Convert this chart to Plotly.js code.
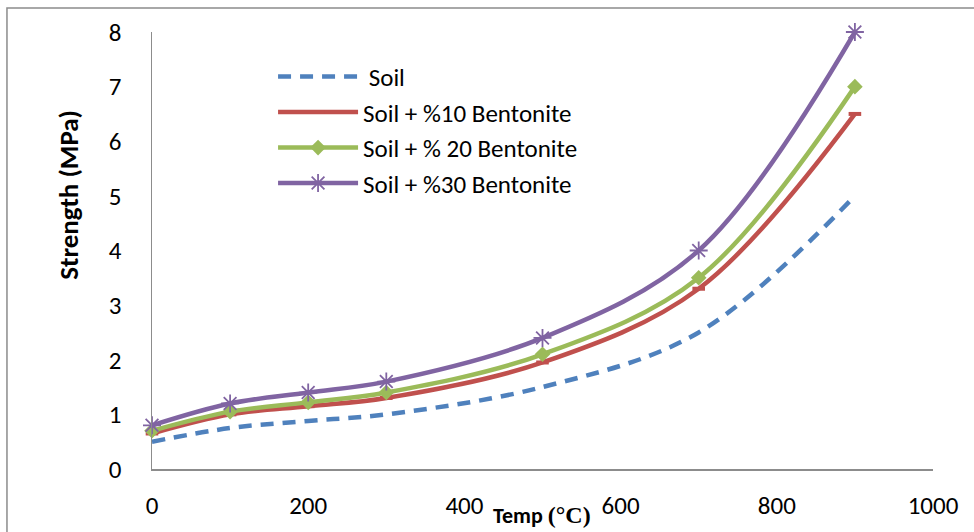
<!DOCTYPE html>
<html>
<head>
<meta charset="utf-8">
<script src="https://cdn.plot.ly/plotly-3.0.1.min.js"></script>
<style>html,body{margin:0;padding:0;background:#fff;}</style>
</head>
<body>
<div id="chart" style="width:974px;height:532px;"></div>
<script>
const temps = [0, 100, 200, 300, 500, 700, 900];
const soil = [0.5, 0.75, 0.88, 1.0, 1.5, 2.5, 5.0];
const bent10 = [0.65, 1.0, 1.15, 1.3, 1.95, 3.3, 6.5];
const bent20 = [0.7, 1.05, 1.22, 1.4, 2.1, 3.5, 7.0];
const bent30 = [0.8, 1.2, 1.4, 1.6, 2.4, 4.0, 8.0];
const seriesNames = [" Soil", "Soil + %10 Bentonite", "Soil + % 20 Bentonite", "Soil + %30 Bentonite"];
const xTicks = [0, 200, 400, 600, 800, 1000];
const yTicks = [0, 1, 2, 3, 4, 5, 6, 7, 8];

const FONT = "Carlito, Lato, 'Liberation Sans', sans-serif";

const traces = [
  {x: temps, y: soil, name: seriesNames[0], legendgroup: 'a', mode: 'lines',
   line: {color: '#4F81BD', width: 4.5, dash: '13px,9px', shape: 'spline', smoothing: 1}},
  {x: temps, y: bent10, name: seriesNames[1], legendgroup: 'b', mode: 'lines+markers',
   line: {color: '#C0504D', width: 4.5, shape: 'spline', smoothing: 1},
   marker: {symbol: 'line-ew-open', size: 9, color: '#C0504D', line: {color: '#C0504D', width: 4}}},
  {x: temps, y: bent20, name: seriesNames[2], legendgroup: 'c', mode: 'lines+markers',
   line: {color: '#9BBB59', width: 4.5, shape: 'spline', smoothing: 1},
   marker: {symbol: 'diamond', size: 12, color: '#9BBB59'}},
  {x: temps, y: bent30, name: seriesNames[3], legendgroup: 'd', mode: 'lines+markers',
   line: {color: '#8064A2', width: 4.5, shape: 'spline', smoothing: 1},
   marker: {symbol: 'asterisk-open', size: 15, color: '#8064A2', line: {color: '#8064A2', width: 1.8}}}
];
traces.forEach(t => t.cliponaxis = false);

const layout = {
  width: 974, height: 532,
  margin: {l: 152, r: 41, t: 32, b: 63, pad: 0},
  paper_bgcolor: '#fff', plot_bgcolor: '#fff',
  font: {family: FONT, color: '#000'},
  showlegend: true,
  legend: {x: 0.155, xanchor: 'left', y: 0.95, yanchor: 'top', bgcolor: 'rgba(0,0,0,0)',
           font: {family: FONT, size: 25, color: '#000'}, traceorder: 'grouped', tracegroupgap: 0, itemwidth: 80},
  xaxis: {range: [0, 1000], tickvals: xTicks, ticktext: xTicks.map(String), showgrid: false, zeroline: false,
          showline: true, linecolor: '#8c8c8c', linewidth: 1.5, ticks: '', ticklabelstandoff: 13,
          tickfont: {family: FONT, size: 25, color: '#000'}, fixedrange: true},
  yaxis: {range: [0, 8], tickvals: yTicks, ticktext: yTicks.map(String), showgrid: false, zeroline: false,
          showline: true, linecolor: '#8c8c8c', linewidth: 1.5, ticks: '', ticklabelstandoff: 24,
          tickfont: {family: FONT, size: 25, color: '#000'}, fixedrange: true},
  shapes: [
    {type: 'rect', xref: 'paper', yref: 'paper', x0: -0.1857, x1: 1.2, y0: -0.3, y1: 1.055,
     line: {color: '#8c8c8c', width: 1.5}, fillcolor: 'rgba(0,0,0,0)', layer: 'below'}
  ],
  annotations: [
    {xref: 'paper', yref: 'paper', x: -0.108, y: 0.627, xanchor: 'center', yanchor: 'middle', textangle: -90,
     showarrow: false, text: '<b>Strength (MPa)</b>', font: {family: FONT, size: 27, color: '#000'}},
    {xref: 'paper', yref: 'paper', x: 0.499, y: -0.106, xanchor: 'center', yanchor: 'middle',
     showarrow: false, text: "<b>Temp </b><span style=\"font-family:'Liberation Serif';font-size:24px\"><b>(°C)</b></span>",
     font: {family: FONT, size: 22, color: '#000'}}
  ]
};

Plotly.newPlot('chart', traces, layout, {displayModeBar: false, staticPlot: true});
</script>
</body>
</html>
